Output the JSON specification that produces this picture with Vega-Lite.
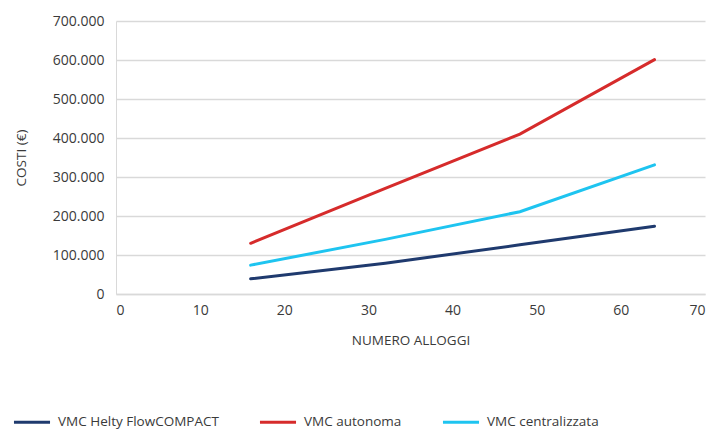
{
  "$schema": "https://vega.github.io/schema/vega-lite/v6.json",
  "width": 589,
  "height": 273,
  "autosize": {"type": "none"},
  "padding": {"left": 116, "top": 21, "right": 11, "bottom": 135},
  "background": "white",
  "config": {
    "font": "Open Sans",
    "view": {"stroke": null},
    "axis": {"labelFont": "Open Sans", "titleFont": "Open Sans", "labelColor": "#3a3a3a", "titleColor": "#3a3a3a", "labelFontSize": 14, "titleFontSize": 13.5, "titleFontWeight": "normal"}
  },
  "data": {
    "values": [
      {"serie": "VMC Helty FlowCOMPACT", "alloggi": 16, "costo": 39000},
      {"serie": "VMC Helty FlowCOMPACT", "alloggi": 32, "costo": 79000},
      {"serie": "VMC Helty FlowCOMPACT", "alloggi": 48, "costo": 126000},
      {"serie": "VMC Helty FlowCOMPACT", "alloggi": 64, "costo": 174000},
      {"serie": "VMC autonoma", "alloggi": 16, "costo": 130000},
      {"serie": "VMC autonoma", "alloggi": 32, "costo": 271000},
      {"serie": "VMC autonoma", "alloggi": 48, "costo": 410000},
      {"serie": "VMC autonoma", "alloggi": 64, "costo": 601000},
      {"serie": "VMC centralizzata", "alloggi": 16, "costo": 74000},
      {"serie": "VMC centralizzata", "alloggi": 32, "costo": 140000},
      {"serie": "VMC centralizzata", "alloggi": 48, "costo": 211000},
      {"serie": "VMC centralizzata", "alloggi": 64, "costo": 331000}
    ]
  },
  "mark": {"type": "line", "strokeWidth": 3, "strokeCap": "round"},
  "encoding": {
    "x": {
      "field": "alloggi", "type": "quantitative",
      "scale": {"domain": [0, 70], "nice": false},
      "axis": {"values": [0,10,20,30,40,50,60,70], "grid": false, "ticks": false, "domainColor": "#d9d9d9", "domainWidth": 1.5, "labelPadding": 9, "title": "NUMERO ALLOGGI", "titlePadding": 16}
    },
    "y": {
      "field": "costo", "type": "quantitative",
      "scale": {"domain": [0, 700000], "nice": false},
      "axis": {"values": [0,100000,200000,300000,400000,500000,600000,700000], "labelExpr": "replace(format(datum.value, ','), /,/g, '.')", "grid": true, "gridColor": "#d9d9d9", "gridWidth": 1.5, "ticks": false, "domain": true, "domainColor": "#d9d9d9", "labelPadding": 12, "title": "COSTI (€)", "titlePadding": 24}
    },
    "color": {
      "field": "serie", "type": "nominal",
      "scale": {"domain": ["VMC Helty FlowCOMPACT", "VMC autonoma", "VMC centralizzata"], "range": ["#1f3a6e", "#d62b2b", "#1ec4f0"]},
      "legend": {
        "title": null, "orient": "none", "legendX": -104, "legendY": 381, "direction": "horizontal",
        "symbolType": "stroke", "symbolSize": 1300, "symbolStrokeWidth": 3, "labelFontSize": 13.5, "labelLimit": 400, "labelColor": "#3a3a3a", "labelFont": "Open Sans", "columnPadding": 34, "labelOffset": 6
      }
    }
  }
}
